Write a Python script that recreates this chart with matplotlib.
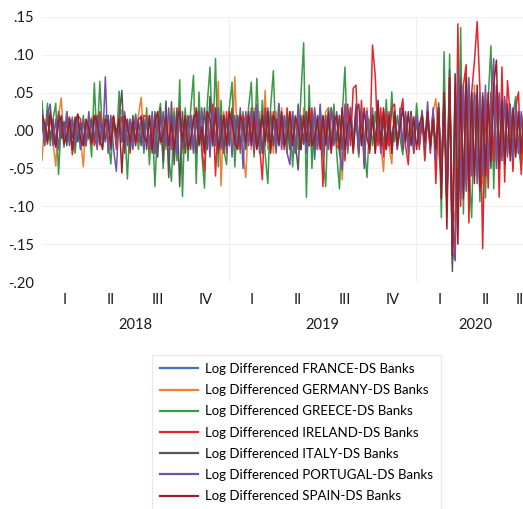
import numpy as np
import pandas as pd
import matplotlib
matplotlib.use("Agg")
import matplotlib.pyplot as plt
import matplotlib.transforms as mtrans

# log differenced DS bank indices, sampled every few trading days (Jan 2018 - Aug 2020)
FRANCE = [
    .012, -.01, .015, -.008, .01, -.015, .012, -.01, .008, -.012, .015, -.01, .01, -.012, .008, -.015, .012, -.01,
    .01, -.012, .015, -.01, .012, -.008, .01, -.015, .012, -.01, .015, -.012, .01, -.015, .012, -.01, .008, -.012,
    .015, -.01, .012, -.015, .01, -.02, .015, -.012, .018, -.015, .012, -.02, .015, -.018, .012, -.015, .01, -.012,
    .015, -.018, .012, -.015, .018, -.02, .015, -.012, .02, -.018, .015, -.02, .012, -.015, .018, -.012, .015, -.018,
    .012, -.015, .018, -.012, .015, -.02, .012, -.015, .018, -.012, .015, -.018, .012, -.015, .01, -.012, .015, -.018,
    .012, -.015, .018, -.012, .015, -.018, .012, -.02, .015, -.038, .018, -.015, .012, -.015, .018, -.012, .015, -.01,
    .012, -.015, .01, -.018, .015, -.012, .018, -.015, .012, -.018, .015, -.012, .018, -.015, .012, -.01, .015, -.012,
    .01, -.012, .015, -.01, .012, -.015, .01, -.012, .015, -.01, .012, -.015, .01, -.012, .015, -.018, .012, -.02,
    .02, -.05, .04, -.08, .06, -.14, -.15, .06, -.08, .05, -.06, .05, -.045, .04, -.05, .04, -.045, .035,
    -.035, .03, -.04, .035, -.03, .03, -.03, .025, -.025, .02, -.025, .018, -.02, .015, -.018, .015, -.015, .012,
]
GERMANY = [
    -.039, .015, -.01, .02, -.015, -.047, .02, .043, -.02, .015, -.018, .012, -.015, .02, -.01, -.048, .015, -.012,
    .018, -.015, .012, -.02, .015, -.012, .02, -.018, .01, -.015, .018, .027, -.02, .015, -.018, .012, -.015, .02,
    .044, -.015, .02, -.025, .015, -.02, .025, -.018, .02, -.025, .015, -.02, .03, -.025, .02, -.03, .025, -.02,
    .02, -.025, .03, -.02, .025, -.03, .02, -.025, .03, -.02, .065, -.073, .025, -.02, .03, -.025, .071, -.02,
    .025, -.03, -.062, .02, -.025, .03, -.02, .025, -.03, .053, -.025, .02, -.03, .025, -.02, .03, -.025, .02,
    -.02, .025, -.03, .02, -.025, .03, -.02, .025, -.03, .02, -.025, .02, -.015, .025, .03, -.02, .025, -.02,
    .02, -.065, .025, -.02, .03, -.025, .02, -.03, .025, -.02, .03, -.025, .02, -.03, .025, -.02, -.054, .02,
    -.02, -.044, .025, -.02, .015, -.025, .02, -.015, .025, -.02, .015, -.018, .02, -.025, .02, -.015, .025, .042,
    -.03, -.06, .04, -.08, .05, -.1, -.12, .07, -.08, .05, -.07, .06, -.05, .06, -.06, .04, -.07, .05,
    -.04, .04, -.05, .045, -.04, .035, -.035, .03, -.03, .025, -.03, .02, -.025, .02, -.02, .015, -.02, .015,
]
GREECE = [
    .039, -.012, .036, -.02, .015, .036, -.058, .012, -.022, .025, -.008, .018, -.03, .01, -.025, .02, -.015, .008,
    -.035, .063, -.018, .065, -.01, .02, -.012, -.044, .018, -.02, .052, -.015, .01, -.064, .015, -.018, .022, -.025,
    .015, -.03, .03, -.045, .02, -.074, .01, .036, -.05, .02, -.035, -.067, .025, -.04, .067, -.087, .03, -.04,
    .028, .073, -.07, .051, -.03, -.076, .035, .084, -.02, .095, -.048, .04, -.025, -.045, .03, .064, -.048, .02,
    -.03, .025, -.02, .03, .064, -.035, .069, -.02, .04, -.03, -.07, .03, .079, -.025, .036, -.015, .02, -.03,
    .025, -.048, .02, -.025, .045, .116, -.088, .06, -.05, .025, -.02, .03, -.035, -.074, .03, -.02, .035, -.03,
    -.077, .02, .084, -.03, .03, -.025, .02, -.035, .025, -.02, -.062, .015, -.02, .025, -.015, .02, -.025, .041,
    -.02, .051, -.015, .02, -.01, -.032, .015, -.02, .01, -.03, .036, -.01, .027, -.02, .015, -.025, .02, -.03,
    .037, -.115, .104, -.099, .101, -.176, .06, -.122, .136, -.11, .082, -.05, -.115, .04, .049, -.094, .03, -.089,
    .04, .112, -.077, .045, -.04, .035, -.03, .03, -.025, .02, .045, -.02, -.052, .025, -.02, .015, -.025, .01,
]
IRELAND = [
    .015, .005, -.018, .02, -.01, -.02, .025, .008, -.015, .012, .018, -.032, -.008, .02, .015, -.01, -.02, .015,
    .012, -.02, -.006, .025, -.012, .015, -.018, .01, .02, -.025, .005, .018, -.02, .012, -.03, .015, .008, -.015,
    -.01, .02, .018, -.025, .005, -.03, .02, .015, -.015, .025, -.02, .012, -.035, .02, .03, -.025, -.008, .015,
    .02, -.025, .03, .008, -.02, -.054, .025, -.02, .035, -.06, .02, .012, -.03, .025, -.015, .03, -.02, .015,
    -.025, .02, .01, -.015, .025, -.03, .018, -.02, -.065, .03, .008, -.015, .025, -.02, .015, .005, -.025, .03,
    -.02, .018, -.03, .02, .008, -.015, .025, -.02, .03, -.025, .015, .02, -.074, .02, -.025, .03, .01, -.02,
    -.025, .03, -.04, .035, -.02, .056, .06, -.03, .04, -.045, .025, -.03, .113, .072, -.02, .03, -.035, .025,
    -.02, .03, .035, -.025, .02, .042, -.02, -.045, .025, -.03, .02, -.025, .015, -.04, .02, -.03, .025, -.07,
    .03, -.06, .05, -.09, .07, -.11, -.17, .141, -.1, .06, .087, -.122, .05, .091, .144, .055, -.156, .04,
    -.076, .05, -.04, .06, -.088, .084, -.068, .066, .02, -.054, .03, .051, -.058, .03, -.03, .025, -.02, .015,
]
ITALY = [
    .01, -.02, .025, -.012, .015, -.018, .02, -.01, .012, -.02, .015, -.01, .018, -.015, .01, -.02, .012, -.01,
    .015, -.012, .02, -.018, .01, -.015, .02, -.025, .015, -.01, .018, .053, -.03, .015, -.025, .02, -.015, .01,
    -.02, .015, -.025, .02, -.03, .025, -.035, .03, -.04, .039, -.062, .038, -.045, .03, -.074, .025, -.03, .02,
    -.025, .02, -.03, .025, -.02, .03, -.025, .045, -.02, .025, -.03, .02, -.025, .015, -.02, .025, -.015, .02,
    -.02, .015, -.025, .02, -.015, .025, -.02, .015, -.03, .02, -.015, .025, -.02, .015, -.02, .018, -.015, .02,
    -.025, .02, -.015, -.052, .02, -.018, .025, -.02, .015, -.025, .02, -.015, .018, -.02, .015, -.025, .02, -.015,
    .02, -.025, .018, -.02, .025, -.015, .02, -.025, .015, -.02, .025, -.018, .02, -.015, .025, -.02, .015, -.025,
    .02, -.015, .018, -.02, .015, -.025, .02, -.015, .025, -.02, .015, -.018, .02, -.025, .018, -.02, .025, -.03,
    .03, -.06, .04, -.09, .08, -.186, .05, -.1, .07, -.08, .06, -.07, .05, -.06, .04, -.08, .05, -.05,
    .04, -.05, .05, -.04, .045, -.035, .04, -.03, .035, -.03, .025, -.03, .02, -.025, .02, -.02, .015, -.02,
]
PORTUGAL = [
    .028, -.015, .02, .035, -.02, .015, -.025, .02, -.015, .025, -.02, .015, -.018, .02, -.025, .015, -.02, .025,
    -.015, .02, -.025, .015, -.02, .071, -.03, .02, -.025, -.054, .02, -.015, .025, -.02, .015, -.025, .02, -.015,
    .02, -.025, .015, -.02, .025, -.03, .02, -.015, .025, -.02, .03, -.025, .02, -.03, .025, -.02, .015, -.025,
    .02, -.03, .025, -.02, .03, -.025, .02, -.035, .025, -.02, .03, -.025, .02, -.03, .025, -.035, .02, -.025,
    .03, -.05, .025, -.02, .03, -.025, .035, -.03, .025, -.02, .03, -.025, .02, -.03, .035, -.025, .02, -.03,
    -.045, .025, -.03, .035, -.025, .02, -.03, .025, -.02, .03, -.025, .035, -.03, .02, -.025, .03, -.02, .025,
    -.03, -.052, .035, -.025, .03, -.02, .035, -.025, .03, -.05, .025, -.02, .03, -.025, .02, -.03, .025, -.02,
    .025, -.03, .02, -.025, .03, -.02, .025, -.03, .02, -.025, .02, -.015, .025, -.02, .038, -.025, .03, -.04,
    .035, -.07, .05, -.1, .06, -.16, -.172, .08, -.09, .06, -.08, .07, -.06, .05, -.07, .05, -.06, .06,
    -.05, .04, .095, -.05, .05, -.04, .045, -.035, .03, -.04, .035, -.03, .025, -.03, .025, -.02, .02, -.025,
]
SPAIN = [
    .02, .008, -.015, .025, -.005, -.022, .012, .018, -.018, -.006, .015, -.025, .01, .022, -.012, -.02, .015, .004,
    -.018, .02, .01, -.012, -.025, .015, .012, -.02, .018, -.004, .015, -.056, .02, .006, -.015, .012, -.02, .015,
    .018, -.008, -.015, .02, -.025, .012, .025, -.015, -.005, .018, -.02, .01, -.025, .015, .025, -.015, .02, -.025,
    -.01, .015, .025, -.018, .005, -.03, .025, .015, -.015, .03, -.025, -.008, .02, -.02, .025, .01, -.015, -.025,
    .02, .008, -.015, .025, -.02, .018, -.025, -.006, .02, -.015, .025, -.03, .02, .012, -.018, .025, -.02, -.008,
    .025, -.02, .018, .006, -.025, .02, -.015, .03, -.02, -.008, .015, -.025, .02, -.018, .025, -.03, .012, .02,
    -.025, .03, -.025, .008, .02, -.03, .025, .035, -.02, .03, -.01, -.025, .02, -.03, .04, -.02, .03, -.025,
    .02, -.03, .025, -.02, .005, .03, -.015, .025, -.02, .018, -.025, .008, .02, -.015, .025, -.02, .015, -.025,
    .03, -.09, .05, -.13, .07, -.165, .075, -.15, .06, -.09, .07, -.08, .05, -.07, .06, -.075, .045, -.06,
    .05, -.04, .06, .093, -.05, .04, -.045, .035, -.04, .03, -.035, .025, -.03, .03, -.025, .02, -.03, .02,
]

SERIES = [FRANCE, GERMANY, GREECE, IRELAND, ITALY, PORTUGAL, SPAIN]
NAMES = ["FRANCE", "GERMANY", "GREECE", "IRELAND", "ITALY", "PORTUGAL", "SPAIN"]
COLORS = ["#3f6fbf", "#ee8033", "#3a9a47", "#e3262b", "#565656", "#7252a6", "#9b1f24"]
START, END = "2018-01-02", "2020-08-20"
YEARS = [2018, 2019, 2020]
QUARTERS = ["I", "II", "III", "IV"]
YTICKS = [-.20, -.15, -.10, -.05, .00, .05, .10, .15]

plt.rcParams["font.family"] = ["Lato", "DejaVu Sans"]

W, H = 523, 509
fig = plt.figure(figsize=(W / 100, H / 100), dpi=100)
# plot area runs a little past the right edge of the image
ax = fig.add_axes([42 / W, (H - 282) / H, 493 / W, 265 / H])

for vals, name, col in zip(SERIES, NAMES, COLORS):
    dates = pd.date_range(START, END, periods=len(vals))
    ax.plot(dates, vals, color=col, lw=1.1, label=f"Log Differenced {name}-DS Banks")

x0, x1 = pd.Timestamp(START), pd.Timestamp(END)
ax.set_xlim(x0, x1)
ax.set_ylim(-0.20, 0.15)

# faint grid: horizontal at each tick, vertical at year starts
for y in YTICKS:
    ax.axhline(y, color="#f1f1f1", lw=0.8, zorder=0)
for yr in YEARS[1:]:
    ax.axvline(pd.Timestamp(f"{yr}-01-01"), color="#efefef", lw=0.8, zorder=0)

ax.set_yticks(YTICKS)
ax.set_yticklabels([f"{v:.2f}".replace("0.", ".") for v in YTICKS])

# quarter labels centred on each quarter (last one only partly covered)
qpos, qlab = [], []
for yr in YEARS:
    for q in range(4):
        a = pd.Timestamp(yr, 3 * q + 1, 1)
        b = a + pd.DateOffset(months=3)
        if a >= x1:
            break
        b = min(b, x1)
        qpos.append(a + (b - a) / 2)
        qlab.append(QUARTERS[q])
ax.set_xticks(qpos)
ax.set_xticklabels(qlab)

trans = mtrans.blended_transform_factory(ax.transData, ax.transAxes)
for yr in YEARS:
    a = pd.Timestamp(yr, 1, 1)
    b = min(pd.Timestamp(yr + 1, 1, 1), x1)
    ax.text(a + (b - a) / 2, -43 / 265, str(yr), transform=trans,
            ha="center", va="center", fontsize=10.5, color="#1a1a1a")

ax.tick_params(axis="both", length=0, labelsize=10.5, colors="#1a1a1a")
ax.tick_params(axis="x", pad=8)
ax.tick_params(axis="y", pad=6)
for s in ax.spines.values():
    s.set_visible(False)

leg = fig.legend(loc="upper left", bbox_to_anchor=(152 / W, 1 - 355 / H),
                 fontsize=9.5, frameon=True, fancybox=False, edgecolor="#e3e3e3",
                 handlelength=2.9, handletextpad=0.55, labelspacing=0.70,
                 borderpad=0.6, borderaxespad=0)
leg.get_frame().set_linewidth(0.8)
for ln in leg.get_lines():
    ln.set_linewidth(1.6)

fig.savefig("out.png", dpi=100)
